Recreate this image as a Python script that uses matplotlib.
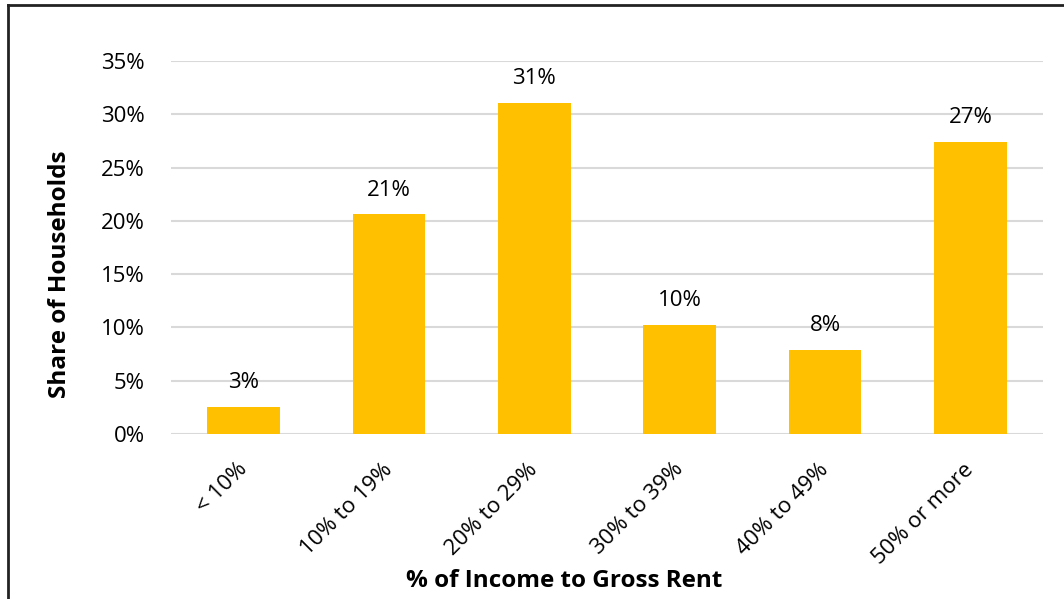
import matplotlib.pyplot as plt
import matplotlib.transforms as mtransforms
import numpy as np

categories = ['< 10%', '10% to 19%', '20% to 29%', '30% to 39%', '40% to 49%', '50% or more']
shares = [2.5, 20.6, 31.1, 10.2, 7.9, 27.4]
labels = ['3%', '21%', '31%', '10%', '8%', '27%']

plt.rcParams['font.family'] = ['Open Sans', 'DejaVu Sans']

fig = plt.figure(figsize=(10.64, 5.99), dpi=100)
ax = fig.add_axes([171 / 1064, 1 - 434 / 599, (1043 - 171) / 1064, (434 - 61) / 599])

x = np.arange(len(categories))
ax.bar(x, shares, width=0.5, color='#FFC000', zorder=3)
for xi, v, lab in zip(x, shares, labels):
    ax.annotate(lab, (xi, v), xytext=(0, 10), textcoords='offset points',
                ha='center', va='bottom', fontsize=16)

ax.set_xlim(-0.5, len(categories) - 0.5)
ax.set_ylim(0, 35)
ax.set_yticks(np.arange(0, 36, 5))
ax.set_yticklabels([f'{t}%' for t in range(0, 36, 5)], fontsize=16)
ax.grid(axis='y', color='#D9D9D9', lw=1.5, zorder=0)
ax.tick_params(length=0)
ax.tick_params(axis='y', pad=19)
for s in ax.spines.values():
    s.set_visible(False)

ax.set_xticks(x)
ax.set_xticklabels(categories, rotation=45, ha='right', rotation_mode='anchor', fontsize=16)
ax.tick_params(axis='x', pad=18)
shift = mtransforms.ScaledTranslation(-7 / 100, 0, fig.dpi_scale_trans)
for t in ax.get_xticklabels():
    t.set_transform(t.get_transform() + shift)

fig.text(60 / 1064, 1 - 274 / 599, 'Share of Households', rotation=90,
         ha='center', va='center', fontsize=17.5, fontweight='bold')
fig.text(564 / 1064, 1 - 581 / 599, '% of Income to Gross Rent',
         ha='center', va='center', fontsize=17.5, fontweight='bold')

# outer frame (bottom edge cut off)
fig.add_artist(plt.Line2D([8 / 1064, 8 / 1064], [0, 1 - 5 / 599], color='#222222', lw=2,
                          transform=fig.transFigure))
fig.add_artist(plt.Line2D([8 / 1064, 1], [1 - 5 / 599, 1 - 5 / 599], color='#222222', lw=2,
                          transform=fig.transFigure))

fig.savefig('out.png', dpi=100)
